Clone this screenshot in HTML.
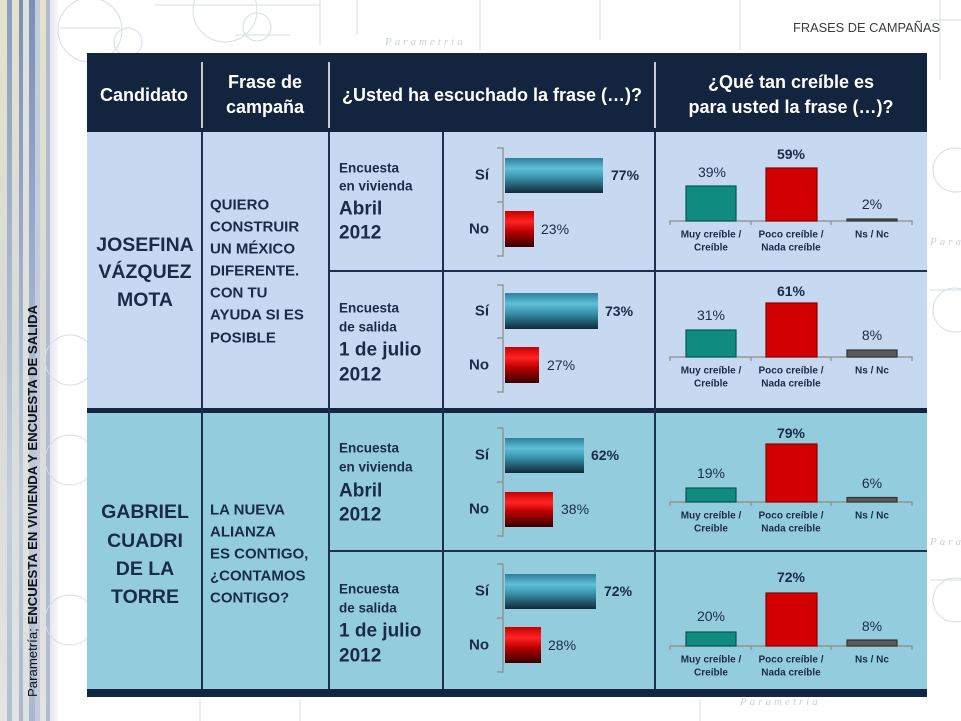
<!DOCTYPE html>
<html><head><meta charset="utf-8"><style>
html,body{margin:0;padding:0;background:#fff;}
svg{display:block;}
text{font-family:"Liberation Sans",Arial,sans-serif;}
</style></head><body>
<svg width="961" height="721" viewBox="0 0 961 721" xmlns="http://www.w3.org/2000/svg">
<defs>
<linearGradient id="ht" x1="0" y1="0" x2="0" y2="1">
<stop offset="0" stop-color="#2f7f98"/><stop offset="0.3" stop-color="#5ec0d8"/><stop offset="0.55" stop-color="#3a93ad"/><stop offset="1" stop-color="#0e2c3a"/>
</linearGradient>
<linearGradient id="hr" x1="0" y1="0" x2="0" y2="1">
<stop offset="0" stop-color="#c80000"/><stop offset="0.3" stop-color="#ff2424"/><stop offset="0.55" stop-color="#c00000"/><stop offset="1" stop-color="#360000"/>
</linearGradient>
<linearGradient id="fade" x1="0" y1="0" x2="1" y2="0">
<stop offset="0" stop-color="#fff" stop-opacity="0"/><stop offset="1" stop-color="#fff" stop-opacity="1"/>
</linearGradient>
<linearGradient id="s1" x1="0" y1="0" x2="0" y2="1">
<stop offset="0" stop-color="#7a8fb8"/><stop offset="0.4" stop-color="#9fb0cf"/><stop offset="0.7" stop-color="#c4cde0"/><stop offset="1" stop-color="#aab6cf"/>
</linearGradient>
<linearGradient id="s2" x1="0" y1="0" x2="0" y2="1">
<stop offset="0" stop-color="#e4e2c9"/><stop offset="0.5" stop-color="#d7dbd6"/><stop offset="1" stop-color="#e2e4e2"/>
</linearGradient>
</defs>

<!-- left painted strip -->
<g>
<rect x="0" y="0" width="58" height="721" fill="#cfd5e2"/>
<rect x="0" y="0" width="7" height="721" fill="url(#s2)"/>
<rect x="7" y="0" width="5" height="721" fill="url(#s1)" opacity="0.8"/>
<rect x="12" y="0" width="7" height="721" fill="url(#s2)"/>
<rect x="19" y="0" width="4" height="721" fill="url(#s1)"/>
<rect x="23" y="0" width="6" height="721" fill="#dfe1dc"/>
<rect x="29" y="0" width="6" height="721" fill="url(#s1)"/>
<rect x="35" y="0" width="5" height="721" fill="#c3cbdd"/>
<rect x="40" y="0" width="6" height="721" fill="url(#s2)"/>
<rect x="46" y="0" width="4" height="721" fill="#a9b5cf" opacity="0.8"/>
<rect x="50" y="0" width="8" height="721" fill="#e4e8ee"/>
<rect x="50" y="0" width="12" height="721" fill="url(#fade)"/>
</g>

<!-- faint background sketch -->
<g stroke="#d6dde8" stroke-width="1" fill="none">
<circle cx="90" cy="30" r="32"/><circle cx="128" cy="42" r="14"/>
<circle cx="225" cy="10" r="32"/><circle cx="257" cy="27" r="14"/>
<line x1="60" y1="28" x2="120" y2="28"/><line x1="155" y1="5" x2="320" y2="5"/>
<line x1="235" y1="35" x2="290" y2="35"/><line x1="320" y1="0" x2="320" y2="45"/>
<line x1="357" y1="0" x2="357" y2="35"/><line x1="480" y1="0" x2="480" y2="50"/>
<line x1="600" y1="0" x2="600" y2="40"/><line x1="740" y1="0" x2="740" y2="50"/>
<circle cx="955" cy="310" r="22"/><circle cx="955" cy="600" r="22"/><circle cx="955" cy="170" r="22"/>
<line x1="930" y1="290" x2="961" y2="290"/><line x1="930" y1="580" x2="961" y2="580"/>
<line x1="930" y1="20" x2="961" y2="20"/><line x1="940" y1="0" x2="940" y2="80"/>
<circle cx="70" cy="360" r="25"/><circle cx="70" cy="460" r="25"/><circle cx="70" cy="620" r="25"/>
<line x1="200" y1="700" x2="200" y2="721"/><line x1="300" y1="700" x2="300" y2="721"/><line x1="700" y1="700" x2="700" y2="721"/>
</g>
<g fill="#c8d0dc" font-style="italic" font-size="11" letter-spacing="3">
<text x="385" y="45" style="font-family:'Liberation Serif',serif">Parametria</text>
<text x="740" y="705" style="font-family:'Liberation Serif',serif">Parametria</text>
<text x="930" y="245" style="font-family:'Liberation Serif',serif">Para</text>
<text x="930" y="545" style="font-family:'Liberation Serif',serif">Para</text>
</g>

<!-- title -->
<text x="940" y="32" text-anchor="end" font-size="13" fill="#3c3c3c" textLength="147" lengthAdjust="spacingAndGlyphs">FRASES DE CAMPAÑAS</text>

<!-- vertical source text -->
<text transform="translate(37,697) rotate(-90)" font-size="13" fill="#111" textLength="392" lengthAdjust="spacingAndGlyphs"><tspan>Parametría; </tspan><tspan font-weight="bold">ENCUESTA EN VIVIENDA Y ENCUESTA DE SALIDA</tspan></text>

<!-- table backgrounds -->
<rect x="87" y="53" width="840" height="79" fill="#12243e"/>
<rect x="87" y="132" width="840" height="277" fill="#c6d9f0"/>
<rect x="87" y="411" width="840" height="279" fill="#93cddd"/>
<rect x="87" y="408" width="840" height="5" fill="#13253f"/>
<rect x="87" y="689" width="840" height="8" fill="#13253f"/>

<!-- header dividers -->
<g fill="#c4c9d2">
<rect x="201" y="62" width="2" height="66"/>
<rect x="328" y="62" width="2" height="66"/>
<rect x="654" y="62" width="2" height="66"/>
</g>

<!-- body grid -->
<g fill="#1d2f4c">
<rect x="201" y="132" width="2" height="557"/>
<rect x="328" y="132" width="2" height="557"/>
<rect x="442" y="132" width="2" height="557"/>
<rect x="654" y="132" width="2" height="557"/>
<rect x="329" y="270" width="598" height="2"/>
<rect x="329" y="550" width="598" height="2"/>
</g>

<!-- header text -->
<g fill="#fff" font-weight="bold" font-size="18" text-anchor="middle" dominant-baseline="central">
<text x="144" y="95">Candidato</text>
<text x="265" y="82">Frase de</text>
<text x="265" y="107">campaña</text>
<text x="492" y="95">¿Usted ha escuchado la frase (…)?</text>
<text x="791" y="82">¿Qué tan creíble es</text>
<text x="791" y="107">para usted la frase (…)?</text>
</g>

<!-- candidates -->
<g fill="#1a2b47" font-weight="bold" font-size="19.5" text-anchor="middle" dominant-baseline="central">
<text x="145" y="245">JOSEFINA</text>
<text x="145" y="272">VÁZQUEZ</text>
<text x="145" y="300">MOTA</text>
<text x="145" y="512">GABRIEL</text>
<text x="145" y="541">CUADRI</text>
<text x="145" y="569">DE LA</text>
<text x="145" y="597">TORRE</text>
</g>
<g fill="#1a2b47" font-weight="bold" font-size="15" dominant-baseline="central">
<text x="210" y="205">QUIERO</text>
<text x="210" y="227">CONSTRUIR</text>
<text x="210" y="249">UN MÉXICO</text>
<text x="210" y="271">DIFERENTE.</text>
<text x="210" y="293">CON TU</text>
<text x="210" y="315">AYUDA SI ES</text>
<text x="210" y="338">POSIBLE</text>
<text x="210" y="510">LA NUEVA</text>
<text x="210" y="532">ALIANZA</text>
<text x="210" y="554">ES CONTIGO,</text>
<text x="210" y="576">¿CONTAMOS</text>
<text x="210" y="598">CONTIGO?</text>
</g>

<!-- survey labels -->
<g fill="#1a2b47" font-weight="bold" dominant-baseline="central">
<text x="339" y="168" font-size="13.5">Encuesta</text>
<text x="339" y="186" font-size="13.5">en vivienda</text>
<text x="339" y="209" font-size="19">Abril</text>
<text x="339" y="233" font-size="19">2012</text>
<text x="339" y="308" font-size="13.5">Encuesta</text>
<text x="339" y="327" font-size="13.5">de salida</text>
<text x="339" y="350" font-size="19">1 de julio</text>
<text x="339" y="375" font-size="19">2012</text>
<text x="339" y="448" font-size="13.5">Encuesta</text>
<text x="339" y="467" font-size="13.5">en vivienda</text>
<text x="339" y="491" font-size="19">Abril</text>
<text x="339" y="515" font-size="19">2012</text>
<text x="339" y="589" font-size="13.5">Encuesta</text>
<text x="339" y="608" font-size="13.5">de salida</text>
<text x="339" y="631" font-size="19">1 de julio</text>
<text x="339" y="656" font-size="19">2012</text>
</g>

<!-- horizontal bar charts -->
<g stroke="#8a8a8a" stroke-width="1.2" fill="none">
<path d="M497 148H503V256H497M497 202H503"/>
<path d="M497 285H503V392H497M497 338H503"/>
<path d="M497 428H503V536H497M497 482H503"/>
<path d="M497 564H503V672H497M497 618H503"/>
</g>
<g>
<rect x="505" y="158" width="98" height="35" fill="url(#ht)"/>
<rect x="505" y="211" width="29" height="36" fill="url(#hr)"/>
<rect x="505" y="293" width="93" height="36" fill="url(#ht)"/>
<rect x="505" y="347" width="34" height="36" fill="url(#hr)"/>
<rect x="505" y="438" width="79" height="35" fill="url(#ht)"/>
<rect x="505" y="492" width="48" height="35" fill="url(#hr)"/>
<rect x="505" y="574" width="91" height="35" fill="url(#ht)"/>
<rect x="505" y="627" width="36" height="36" fill="url(#hr)"/>
</g>
<g fill="#1a2b47" font-weight="bold" font-size="15" text-anchor="end" dominant-baseline="central">
<text x="489" y="175">Sí</text><text x="489" y="229">No</text>
<text x="489" y="311">Sí</text><text x="489" y="365">No</text>
<text x="489" y="455">Sí</text><text x="489" y="509">No</text>
<text x="489" y="591">Sí</text><text x="489" y="645">No</text>
</g>
<g fill="#1a2b47" font-size="14" dominant-baseline="central">
<text x="611" y="175" font-weight="bold">77%</text><text x="541" y="229">23%</text>
<text x="605" y="311" font-weight="bold">73%</text><text x="547" y="365">27%</text>
<text x="591" y="455" font-weight="bold">62%</text><text x="561" y="509">38%</text>
<text x="604" y="591" font-weight="bold">72%</text><text x="548" y="645">28%</text>
</g>

<!-- vertical bar charts -->
<g stroke="#8a8a8a" stroke-width="1.2" fill="none">
<path d="M670 225V221H912V225M751 221V225M831 221V225"/>
<path d="M670 361V357H912V361M751 357V361M831 357V361"/>
<path d="M670 506V502H912V506M751 502V506M831 502V506"/>
<path d="M670 650V646H912V650M751 646V650M831 646V650"/>
</g>
<g stroke-width="1.2">
<rect x="686" y="186" width="50" height="35" fill="#0f8b80" stroke="#08564f"/>
<rect x="766" y="168" width="51" height="53" fill="#d20000" stroke="#8e0000"/>
<rect x="847" y="219" width="50" height="2" fill="#555" stroke="#333"/>
<rect x="686" y="330" width="50" height="27" fill="#0f8b80" stroke="#08564f"/>
<rect x="766" y="303" width="51" height="54" fill="#d20000" stroke="#8e0000"/>
<rect x="847" y="350" width="50" height="7" fill="#5a5a5a" stroke="#333"/>
<rect x="686" y="488" width="50" height="14" fill="#0f8b80" stroke="#08564f"/>
<rect x="766" y="444" width="51" height="58" fill="#d20000" stroke="#8e0000"/>
<rect x="847" y="497.5" width="50" height="4.5" fill="#5a5a5a" stroke="#333"/>
<rect x="686" y="632" width="50" height="14" fill="#0f8b80" stroke="#08564f"/>
<rect x="766" y="593" width="51" height="53" fill="#d20000" stroke="#8e0000"/>
<rect x="847" y="640" width="50" height="6" fill="#5a5a5a" stroke="#333"/>
</g>
<g fill="#1a2b47" font-size="14" text-anchor="middle" dominant-baseline="central">
<text x="712" y="172">39%</text><text x="791" y="154" font-weight="bold">59%</text><text x="872" y="204">2%</text>
<text x="711" y="315">31%</text><text x="791" y="291" font-weight="bold">61%</text><text x="872" y="335">8%</text>
<text x="711" y="473">19%</text><text x="791" y="433" font-weight="bold">79%</text><text x="872" y="483">6%</text>
<text x="711" y="616">20%</text><text x="791" y="577" font-weight="bold">72%</text><text x="872" y="626">8%</text>
</g>
<g fill="#1a2b47" font-size="10" font-weight="bold" text-anchor="middle" dominant-baseline="central">
<text x="711" y="235">Muy creíble /</text><text x="711" y="248">Creíble</text>
<text x="791" y="235">Poco creíble /</text><text x="791" y="248">Nada creíble</text>
<text x="872" y="235">Ns / Nc</text>
<text x="711" y="371">Muy creíble /</text><text x="711" y="384">Creíble</text>
<text x="791" y="371">Poco creíble /</text><text x="791" y="384">Nada creíble</text>
<text x="872" y="371">Ns / Nc</text>
<text x="711" y="516">Muy creíble /</text><text x="711" y="529">Creíble</text>
<text x="791" y="516">Poco creíble /</text><text x="791" y="529">Nada creíble</text>
<text x="872" y="516">Ns / Nc</text>
<text x="711" y="660">Muy creíble /</text><text x="711" y="673">Creíble</text>
<text x="791" y="660">Poco creíble /</text><text x="791" y="673">Nada creíble</text>
<text x="872" y="660">Ns / Nc</text>
</g>
</svg>
</body></html>
